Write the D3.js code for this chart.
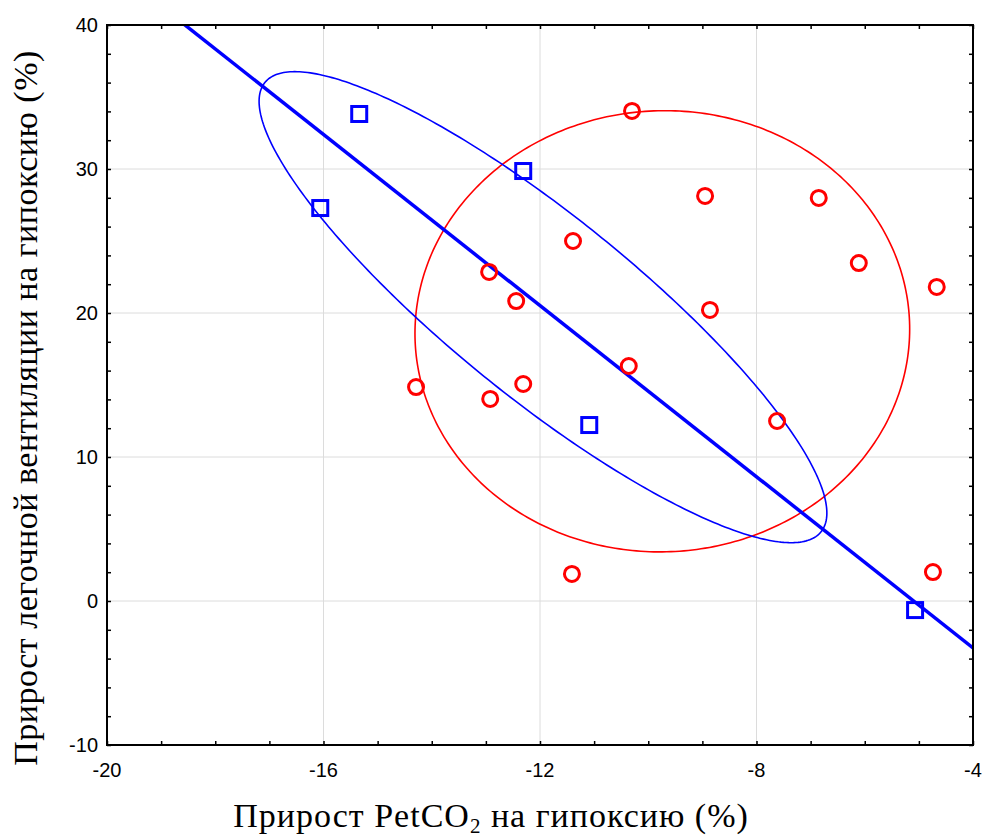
<!DOCTYPE html>
<html>
<head>
<meta charset="utf-8">
<script src="https://cdn.jsdelivr.net/npm/d3@7"></script>
<style>
  body { margin: 0; background: #fff; }
  svg { display: block; }
</style>
</head>
<body>
<svg id="chart" width="982" height="839"></svg>
<script>
// group 1 (blue squares)
const blueX = [-16.06, -15.34, -12.31, -11.09, -5.07];
const blueY = [27.29, 33.82, 29.86, 12.22, -0.63];

// group 2 (red circles)
const redX = [-10.30, -8.95, -6.85, -11.39, -12.94, -12.44, -8.86, -6.11, -4.67,
              -14.29, -12.92, -12.31, -10.36, -7.62, -11.41, -4.74];
const redY = [34.03, 28.13, 27.99, 25.00, 22.85, 20.83, 20.21, 23.47, 21.81,
              14.86, 14.03, 15.07, 16.32, 12.50, 1.88, 2.01];

// regression line y = b0 + b1 * x
const fitLine = [-15.14, -2.971];

// ellipses: [centerX, centerY, halfWidthX, halfHeightY, correlation]
const blueEllipse = [-11.945, 20.405, 5.245, 16.355, -0.874];
const redEllipse = [-9.74, 18.73, 4.57, 15.32, 0.01];

const xTicks = [-20, -16, -12, -8, -4];
const yTicks = [-10, 0, 10, 20, 30, 40];

const xTitle = "Прирост PetCO";
const xTitleSub = "2";
const xTitleEnd = " на гипоксию (%)";
const yTitle = "Прирост легочной вентиляции на гипоксию (%)";

const svg = d3.select("#chart");
const pL = 107, pR = 973, pT = 25, pB = 745;

const x = d3.scaleLinear().domain([-20, -4]).range([pL, pR]);
const y = d3.scaleLinear().domain([-10, 40]).range([pB, pT]);

svg.append("defs").append("clipPath").attr("id", "plotclip")
  .append("rect")
  .attr("x", pL).attr("y", pT)
  .attr("width", pR - pL).attr("height", pB - pT);

// grid
svg.append("g")
  .selectAll("line")
  .data(xTicks.slice(1, -1))
  .join("line")
  .attr("x1", d => x(d)).attr("x2", d => x(d))
  .attr("y1", pT).attr("y2", pB)
  .attr("stroke", "#dcdcdc").attr("stroke-width", 1);
svg.append("g")
  .selectAll("line")
  .data(yTicks.slice(1, -1))
  .join("line")
  .attr("x1", pL).attr("x2", pR)
  .attr("y1", d => y(d)).attr("y2", d => y(d))
  .attr("stroke", "#dcdcdc").attr("stroke-width", 1);

// ticks on all four sides, pointing inward
const xMinor = d3.range(-20, -3, 1);
const yMinor = d3.range(-10, 41, 2);
const tickLen = 4;

svg.append("g").attr("transform", `translate(0,${pB})`)
  .call(d3.axisTop(x).tickValues(xMinor).tickSize(tickLen).tickFormat(""))
  .call(g => g.select(".domain").remove());
svg.append("g").attr("transform", `translate(0,${pT})`)
  .call(d3.axisBottom(x).tickValues(xMinor).tickSize(tickLen).tickFormat(""))
  .call(g => g.select(".domain").remove());
svg.append("g").attr("transform", `translate(${pL},0)`)
  .call(d3.axisRight(y).tickValues(yMinor).tickSize(tickLen).tickFormat(""))
  .call(g => g.select(".domain").remove());
svg.append("g").attr("transform", `translate(${pR},0)`)
  .call(d3.axisLeft(y).tickValues(yMinor).tickSize(tickLen).tickFormat(""))
  .call(g => g.select(".domain").remove());
svg.selectAll(".tick line").attr("stroke", "#000").attr("stroke-width", 1.5);

// tick labels
svg.append("g")
  .selectAll("text")
  .data(xTicks)
  .join("text")
  .attr("x", d => x(d))
  .attr("y", pB + 32)
  .attr("text-anchor", "middle")
  .attr("font-family", "Liberation Sans, Arial, sans-serif")
  .attr("font-size", 20)
  .text(d => d);
svg.append("g")
  .selectAll("text")
  .data(yTicks)
  .join("text")
  .attr("x", pL - 9)
  .attr("y", d => y(d) + 7)
  .attr("text-anchor", "end")
  .attr("font-family", "Liberation Sans, Arial, sans-serif")
  .attr("font-size", 20)
  .text(d => d);

const plot = svg.append("g").attr("clip-path", "url(#plotclip)");

// ellipses
const ellipsePoints = e => {
  const [cx, cy, a, b, r] = e;
  const delta = Math.acos(r);
  return d3.range(0, 361).map(deg => {
    const t = deg * Math.PI / 180;
    return [cx + a * Math.cos(t), cy + b * Math.cos(t + delta)];
  });
};
const lineGen = d3.line().x(d => x(d[0])).y(d => y(d[1]));

plot.append("path")
  .attr("d", lineGen(ellipsePoints(redEllipse)))
  .attr("fill", "none").attr("stroke", "#ff0000").attr("stroke-width", 1.6);
plot.append("path")
  .attr("d", lineGen(ellipsePoints(blueEllipse)))
  .attr("fill", "none").attr("stroke", "#0000ff").attr("stroke-width", 1.6);

// regression line
const fitX = x.domain();
plot.append("path")
  .attr("d", lineGen(fitX.map(v => [v, fitLine[0] + fitLine[1] * v])))
  .attr("fill", "none").attr("stroke", "#0000ff").attr("stroke-width", 3.5);

// points
plot.append("g")
  .selectAll("circle")
  .data(redX.map((v, i) => [v, redY[i]]))
  .join("circle")
  .attr("cx", d => x(d[0]))
  .attr("cy", d => y(d[1]))
  .attr("r", 7.5)
  .attr("fill", "none")
  .attr("stroke", "#ff0000")
  .attr("stroke-width", 3);

const sq = 15;
plot.append("g")
  .selectAll("rect")
  .data(blueX.map((v, i) => [v, blueY[i]]))
  .join("rect")
  .attr("x", d => x(d[0]) - sq / 2)
  .attr("y", d => y(d[1]) - sq / 2)
  .attr("width", sq).attr("height", sq)
  .attr("fill", "none")
  .attr("stroke", "#0000ff")
  .attr("stroke-width", 3);

// frame
svg.append("rect")
  .attr("x", pL).attr("y", pT)
  .attr("width", pR - pL).attr("height", pB - pT)
  .attr("fill", "none").attr("stroke", "#000").attr("stroke-width", 2);

// axis titles
const xt = svg.append("text")
  .attr("x", 491)
  .attr("y", 827)
  .attr("text-anchor", "middle")
  .attr("font-family", "Liberation Serif, Times New Roman, serif")
  .attr("font-size", 34)
  .attr("letter-spacing", 1);
xt.append("tspan").text(xTitle);
xt.append("tspan").attr("font-size", 21).attr("dy", 6).text(xTitleSub);
xt.append("tspan").attr("dy", -6).text(xTitleEnd);

svg.append("text")
  .attr("transform", "translate(37,408) rotate(-90)")
  .attr("text-anchor", "middle")
  .attr("font-family", "Liberation Serif, Times New Roman, serif")
  .attr("font-size", 34)
  .attr("letter-spacing", 0.5)
  .text(yTitle);
</script>
</body>
</html>
